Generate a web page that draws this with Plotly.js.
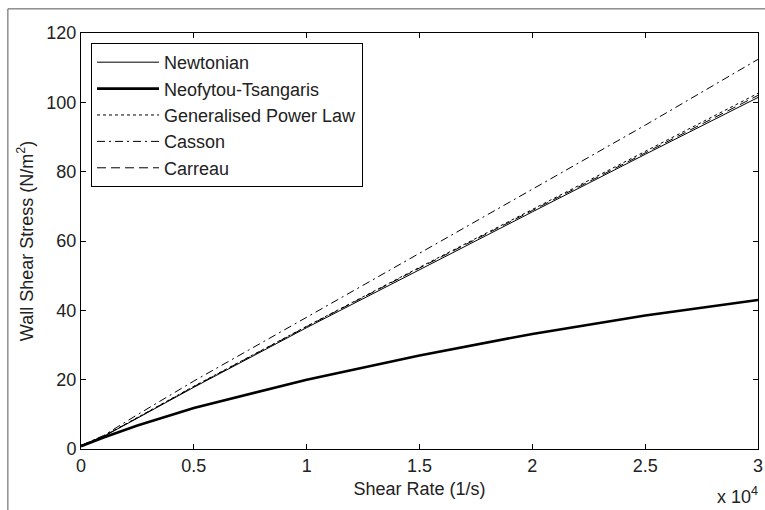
<!DOCTYPE html>
<html>
<head>
<meta charset="utf-8">
<script src="https://cdn.plot.ly/plotly-3.0.1.min.js"></script>
<style>
html,body{margin:0;padding:0;background:#fff;}
#chart{width:765px;height:510px;}
</style>
</head>
<body>
<div id="chart"></div>
<script>
// Shear rate in units of 10^4 1/s (axis shows "x 10^4")
var shearRate = [0, 0.1, 0.25, 0.5, 1, 1.5, 2, 2.5, 3];
var newtonian = [1.0, 3.6, 8.9, 17.8, 35.0, 51.8, 68.4, 85.0, 101.4];
var neofytou  = [0.8, 3.3, 6.8, 11.8, 20.0, 27.0, 33.2, 38.5, 43.0];
var genPowerLaw = [1.0, 3.7, 9.1, 18.1, 35.4, 52.4, 69.1, 85.8, 102.6];
var casson    = [1.0, 3.9, 9.9, 19.6, 38.0, 56.4, 74.8, 93.4, 112.4];
var carreau   = [1.0, 3.7, 9.0, 18.0, 35.3, 52.2, 68.8, 85.5, 102.0];
var seriesNames = ['Newtonian', 'Neofytou-Tsangaris', 'Generalised Power Law', 'Casson', 'Carreau'];
var xTicks = [0, 0.5, 1, 1.5, 2, 2.5, 3];
var xTickText = ['0', '0.5', '1', '1.5', '2', '2.5', '3'];
var yTicks = [0, 20, 40, 60, 80, 100, 120];

var seriesValues = [newtonian, neofytou, genPowerLaw, casson, carreau];
var styles = [
  {width: 1, dash: 'solid'},
  {width: 2.6, dash: 'solid'},
  {width: 1, dash: 'dot'},
  {width: 1, dash: '8px,4px,2px,4px'},
  {width: 1, dash: '9px,5px'}
];
var traces = seriesValues.map(function(v, i){
  return {
    x: shearRate, y: v, name: seriesNames[i], type: 'scatter', mode: 'lines',
    legendgroup: 'g' + i,
    line: {color: '#000', width: styles[i].width, dash: styles[i].dash}
  };
});

var font = {family: 'Liberation Sans, Arial, sans-serif', size: 18, color: '#222'};
var layout = {
  width: 765, height: 510,
  margin: {l: 81, r: 7, t: 33, b: 61},
  paper_bgcolor: '#fff', plot_bgcolor: '#fff',
  font: font,
  showlegend: true,
  legend: {
    x: 0.0148, y: 0.976, xanchor: 'left', yanchor: 'top',
    bgcolor: '#fff', bordercolor: '#000', borderwidth: 1,
    font: font, tracegroupgap: 0, traceorder: 'grouped', itemwidth: 62
  },
  xaxis: {
    range: [0, 3], tickvals: xTicks, ticktext: xTickText,
    ticks: 'inside', ticklen: 5, tickcolor: '#000',
    showline: true, linecolor: '#000', linewidth: 1, mirror: 'ticks',
    showgrid: false, zeroline: false, fixedrange: true,
    title: {text: 'Shear Rate (1/s)', font: font, standoff: 7}
  },
  yaxis: {
    range: [0, 120], tickvals: yTicks,
    ticks: 'inside', ticklen: 5, tickcolor: '#000',
    showline: true, linecolor: '#000', linewidth: 1, mirror: 'ticks',
    showgrid: false, zeroline: false, fixedrange: true,
    title: {text: 'Wall Shear Stress (N/m<sup>2</sup>)', font: font, standoff: 8}
  },
  annotations: [{
    xref: 'paper', yref: 'paper', x: 1.003, y: -0.08, xanchor: 'right', yanchor: 'top',
    text: 'x 10<sup>4</sup>', showarrow: false, font: font
  }],
  shapes: [
    {type: 'line', xref: 'paper', yref: 'paper', x0: -0.108, x1: -0.108, y0: 1.058, y1: -0.2, line: {color: '#555', width: 1}},
    {type: 'line', xref: 'paper', yref: 'paper', x0: -0.108, x1: 1.02, y0: 1.058, y1: 1.058, line: {color: '#555', width: 1}}
  ]
};
Plotly.newPlot('chart', traces, layout, {displayModeBar: false, staticPlot: true});
</script>
</body>
</html>
